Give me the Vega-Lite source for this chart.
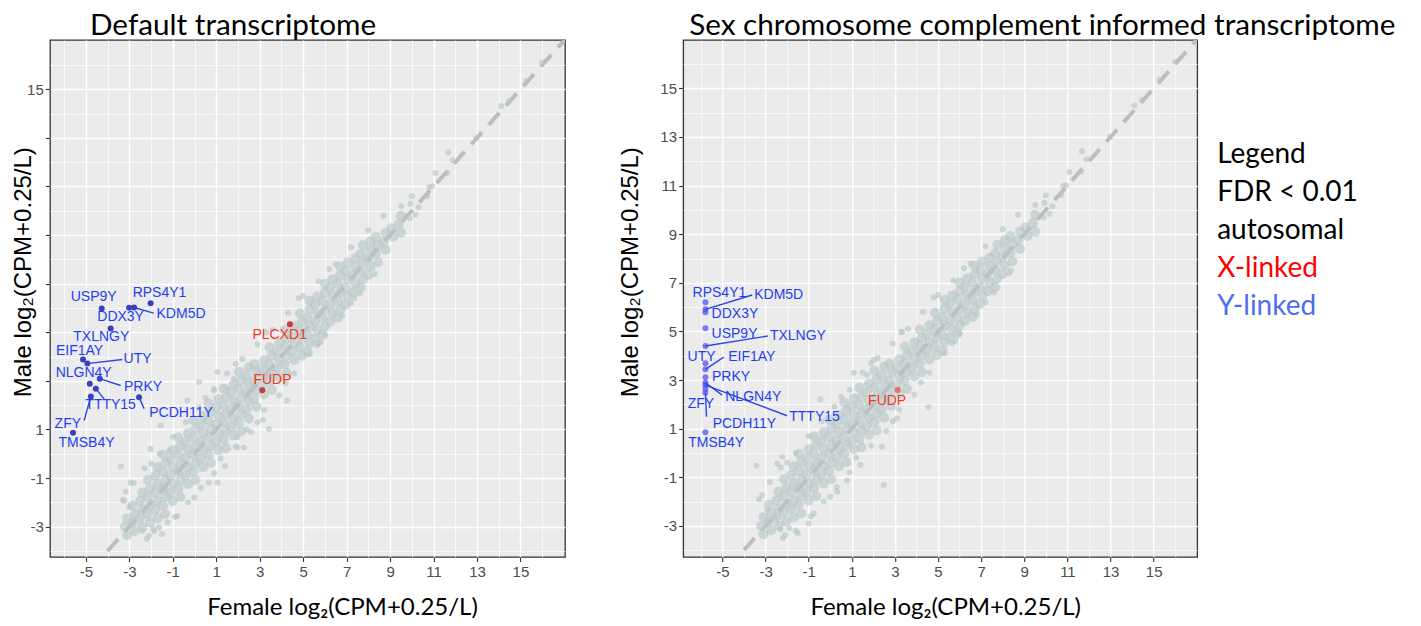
{
  "$schema": "https://vega.github.io/schema/vega-lite/v6.json",
  "background": "white",
  "padding": {"left": 10, "top": 10, "right": 5, "bottom": 5},
  "config": {
    "view": {"fill": "#EBEBEB", "stroke": "#333333", "strokeWidth": 1.3},
    "axis": {"grid": true, "gridColor": "#FFFFFF", "gridOpacity": 1, "domain": false, "tickColor": "#333333", "tickSize": 4.5, "tickWidth": 1.1, "labelFont": "Liberation Sans", "labelFontSize": 15, "labelColor": "#4D4D4D", "labelOverlap": false, "labelFlush": false, "titleFontWeight": "normal", "titleColor": "#000000", "titleAlign": "center", "titleBaseline": "alphabetic"},
    "axisX": {"labelPadding": 3, "titleFont": "Lato", "titleFontSize": 24},
    "axisY": {"labelPadding": 2.2, "titleFont": "Liberation Sans", "titleFontSize": 24, "titleAngle": 270},
    "title": {"font": "Lato", "fontSize": 29.7, "fontWeight": "normal", "color": "#000000", "anchor": "start", "frame": "group", "baseline": "alphabetic", "offset": -2}
  },
  "datasets": {
    "diag": [{"f": -8, "m": -8}, {"f": 20, "m": 20}],
    "genes": [
      {"panel": "L", "gene": "USP9Y", "chrom": "Y", "f": -4.27, "m": 5.98, "lf": -4.64, "lm": 6.46},
      {"panel": "L", "gene": "DDX3Y", "chrom": "Y", "f": -3.01, "m": 6.01, "lf": -3.40, "lm": 5.64},
      {"panel": "L", "gene": "KDM5D", "chrom": "Y", "f": -2.78, "m": 6.02, "lf": -0.62, "lm": 5.74, "ef": -1.88, "em": 5.79},
      {"panel": "L", "gene": "RPS4Y1", "chrom": "Y", "f": -2.02, "m": 6.19, "lf": -1.61, "lm": 6.60},
      {"panel": "L", "gene": "TXLNGY", "chrom": "Y", "f": -3.86, "m": 5.16, "lf": -4.29, "lm": 4.79},
      {"panel": "L", "gene": "EIF1AY", "chrom": "Y", "f": -5.13, "m": 3.88, "lf": -5.29, "lm": 4.22},
      {"panel": "L", "gene": "UTY", "chrom": "Y", "f": -4.93, "m": 3.71, "lf": -2.62, "lm": 3.88, "ef": -3.32, "em": 3.88},
      {"panel": "L", "gene": "NLGN4Y", "chrom": "Y", "f": -4.82, "m": 2.88, "lf": -5.10, "lm": 3.32},
      {"panel": "L", "gene": "PRKY", "chrom": "Y", "f": -4.36, "m": 3.09, "lf": -2.37, "lm": 2.74, "ef": -3.40, "em": 2.81},
      {"panel": "L", "gene": "TTTY15", "chrom": "Y", "f": -4.54, "m": 2.68, "lf": -3.86, "lm": 1.99, "ef": -4.16, "em": 2.26},
      {"panel": "L", "gene": "ZFY", "chrom": "Y", "f": -4.77, "m": 2.36, "lf": -5.83, "lm": 1.23, "ef": -5.08, "em": 1.37},
      {"panel": "L", "gene": "PCDH11Y", "chrom": "Y", "f": -2.55, "m": 2.33, "lf": -0.62, "lm": 1.67, "ef": -2.32, "em": 1.85},
      {"panel": "L", "gene": "TMSB4Y", "chrom": "Y", "f": -5.59, "m": 0.86, "lf": -4.97, "lm": 0.43},
      {"panel": "L", "gene": "PLCXD1", "chrom": "X", "f": 4.39, "m": 5.33, "lf": 3.92, "lm": 4.88},
      {"panel": "L", "gene": "FUDP", "chrom": "X", "f": 3.12, "m": 2.61, "lf": 3.59, "lm": 3.02},
      {"panel": "R", "gene": "RPS4Y1", "chrom": "Y", "f": -5.79, "m": 6.20, "lf": -5.14, "lm": 6.57},
      {"panel": "R", "gene": "KDM5D", "chrom": "Y", "f": -5.79, "m": 5.91, "lf": -2.39, "lm": 6.50, "ef": -3.62, "em": 6.50},
      {"panel": "R", "gene": "DDX3Y", "chrom": "Y", "f": -5.79, "m": 5.79, "lf": -4.42, "lm": 5.71},
      {"panel": "R", "gene": "USP9Y", "chrom": "Y", "f": -5.79, "m": 5.13, "lf": -4.44, "lm": 4.89},
      {"panel": "R", "gene": "TXLNGY", "chrom": "Y", "f": -5.79, "m": 4.40, "lf": -1.50, "lm": 4.81, "ef": -2.90, "em": 4.81},
      {"panel": "R", "gene": "UTY", "chrom": "Y", "f": -5.79, "m": 3.69, "lf": -5.97, "lm": 3.94},
      {"panel": "R", "gene": "EIF1AY", "chrom": "Y", "f": -5.79, "m": 3.44, "lf": -3.64, "lm": 3.96, "ef": -4.94, "em": 3.94},
      {"panel": "R", "gene": "PRKY", "chrom": "Y", "f": -5.79, "m": 3.11, "lf": -4.60, "lm": 3.11},
      {"panel": "R", "gene": "NLGN4Y", "chrom": "Y", "f": -5.79, "m": 2.89, "lf": -3.57, "lm": 2.31, "ef": -5.01, "em": 2.38},
      {"panel": "R", "gene": "TTTY15", "chrom": "Y", "f": -5.79, "m": 2.79, "lf": -0.73, "lm": 1.49, "ef": -2.00, "em": 1.53},
      {"panel": "R", "gene": "ZFY", "chrom": "Y", "f": -5.79, "m": 2.63, "lf": -6.00, "lm": 2.01},
      {"panel": "R", "gene": "PCDH11Y", "chrom": "Y", "f": -5.79, "m": 2.48, "lf": -3.98, "lm": 1.19, "ef": -5.74, "em": 1.49},
      {"panel": "R", "gene": "TMSB4Y", "chrom": "Y", "f": -5.79, "m": 0.85, "lf": -5.29, "lm": 0.39},
      {"panel": "R", "gene": "FUDP", "chrom": "X", "f": 3.13, "m": 2.59, "lf": 2.64, "lm": 2.14}
    ],
    "cloud": [
      {"f": -3.1, "m": -3.35}, {"f": -3.2, "m": -3.0}, {"f": -3.1, "m": -2.65},
      {"f": -2.75, "m": -3.18}, {"f": -2.85, "m": -2.83}, {"f": -2.75, "m": -2.48}, {"f": -2.85, "m": -2.13},
      {"f": -2.4, "m": -3.0}, {"f": -2.5, "m": -2.65}, {"f": -2.4, "m": -2.3}, {"f": -2.5, "m": -1.95}, {"f": -2.4, "m": -1.6},
      {"f": -2.05, "m": -2.83}, {"f": -2.15, "m": -2.48}, {"f": -2.05, "m": -2.13}, {"f": -2.15, "m": -1.78}, {"f": -2.05, "m": -1.43}, {"f": -2.15, "m": -1.08},
      {"f": -1.7, "m": -2.65}, {"f": -1.8, "m": -2.3}, {"f": -1.7, "m": -1.95}, {"f": -1.8, "m": -1.6}, {"f": -1.7, "m": -1.25}, {"f": -1.8, "m": -0.9}, {"f": -1.7, "m": -0.55},
      {"f": -1.35, "m": -2.48}, {"f": -1.45, "m": -2.13}, {"f": -1.35, "m": -1.78}, {"f": -1.45, "m": -1.43}, {"f": -1.35, "m": -1.08}, {"f": -1.45, "m": -0.73}, {"f": -1.35, "m": -0.38}, {"f": -1.45, "m": -0.03},
      {"f": -1.0, "m": -1.95}, {"f": -1.1, "m": -1.6}, {"f": -1.0, "m": -1.25}, {"f": -1.1, "m": -0.9}, {"f": -1.0, "m": -0.55}, {"f": -1.1, "m": -0.2}, {"f": -1.0, "m": 0.15},
      {"f": -0.65, "m": -1.78}, {"f": -0.75, "m": -1.43}, {"f": -0.65, "m": -1.08}, {"f": -0.75, "m": -0.73}, {"f": -0.65, "m": -0.38}, {"f": -0.75, "m": -0.03}, {"f": -0.65, "m": 0.33}, {"f": -0.75, "m": 0.68},
      {"f": -0.3, "m": -1.25}, {"f": -0.4, "m": -0.9}, {"f": -0.3, "m": -0.55}, {"f": -0.4, "m": -0.2}, {"f": -0.3, "m": 0.15}, {"f": -0.4, "m": 0.5}, {"f": -0.3, "m": 0.85},
      {"f": 0.05, "m": -1.08}, {"f": -0.05, "m": -0.73}, {"f": 0.05, "m": -0.38}, {"f": -0.05, "m": -0.03}, {"f": 0.05, "m": 0.33}, {"f": -0.05, "m": 0.68}, {"f": 0.05, "m": 1.03}, {"f": -0.05, "m": 1.38},
      {"f": 0.4, "m": -0.55}, {"f": 0.3, "m": -0.2}, {"f": 0.4, "m": 0.15}, {"f": 0.3, "m": 0.5}, {"f": 0.4, "m": 0.85}, {"f": 0.3, "m": 1.2}, {"f": 0.4, "m": 1.55},
      {"f": 0.75, "m": -0.38}, {"f": 0.65, "m": -0.03}, {"f": 0.75, "m": 0.33}, {"f": 0.65, "m": 0.68}, {"f": 0.75, "m": 1.03}, {"f": 0.65, "m": 1.38}, {"f": 0.75, "m": 1.73}, {"f": 0.65, "m": 2.08},
      {"f": 1.1, "m": 0.15}, {"f": 1.0, "m": 0.5}, {"f": 1.1, "m": 0.85}, {"f": 1.0, "m": 1.2}, {"f": 1.1, "m": 1.55}, {"f": 1.0, "m": 1.9}, {"f": 1.1, "m": 2.25},
      {"f": 1.45, "m": 0.23}, {"f": 1.35, "m": 0.58}, {"f": 1.45, "m": 0.93}, {"f": 1.35, "m": 1.28}, {"f": 1.45, "m": 1.63}, {"f": 1.35, "m": 1.98}, {"f": 1.45, "m": 2.33}, {"f": 1.35, "m": 2.68},
      {"f": 1.8, "m": 0.75}, {"f": 1.7, "m": 1.1}, {"f": 1.8, "m": 1.45}, {"f": 1.7, "m": 1.8}, {"f": 1.8, "m": 2.15}, {"f": 1.7, "m": 2.5}, {"f": 1.8, "m": 2.85},
      {"f": 2.15, "m": 0.93}, {"f": 2.05, "m": 1.28}, {"f": 2.15, "m": 1.63}, {"f": 2.05, "m": 1.98}, {"f": 2.15, "m": 2.33}, {"f": 2.05, "m": 2.68}, {"f": 2.15, "m": 3.03}, {"f": 2.05, "m": 3.38},
      {"f": 2.5, "m": 1.45}, {"f": 2.4, "m": 1.8}, {"f": 2.5, "m": 2.15}, {"f": 2.4, "m": 2.5}, {"f": 2.5, "m": 2.85}, {"f": 2.4, "m": 3.2}, {"f": 2.5, "m": 3.55},
      {"f": 2.85, "m": 1.93}, {"f": 2.75, "m": 2.28}, {"f": 2.85, "m": 2.63}, {"f": 2.75, "m": 2.98}, {"f": 2.85, "m": 3.33}, {"f": 2.75, "m": 3.68},
      {"f": 3.2, "m": 2.45}, {"f": 3.1, "m": 2.8}, {"f": 3.2, "m": 3.15}, {"f": 3.1, "m": 3.5}, {"f": 3.2, "m": 3.85},
      {"f": 3.55, "m": 2.63}, {"f": 3.45, "m": 2.98}, {"f": 3.55, "m": 3.33}, {"f": 3.45, "m": 3.68}, {"f": 3.55, "m": 4.03}, {"f": 3.45, "m": 4.38},
      {"f": 3.9, "m": 3.15}, {"f": 3.8, "m": 3.5}, {"f": 3.9, "m": 3.85}, {"f": 3.8, "m": 4.2}, {"f": 3.9, "m": 4.55},
      {"f": 4.25, "m": 3.33}, {"f": 4.15, "m": 3.68}, {"f": 4.25, "m": 4.03}, {"f": 4.15, "m": 4.38}, {"f": 4.25, "m": 4.73}, {"f": 4.15, "m": 5.08},
      {"f": 4.6, "m": 3.85}, {"f": 4.5, "m": 4.2}, {"f": 4.6, "m": 4.55}, {"f": 4.5, "m": 4.9}, {"f": 4.6, "m": 5.25},
      {"f": 4.95, "m": 4.03}, {"f": 4.85, "m": 4.38}, {"f": 4.95, "m": 4.73}, {"f": 4.85, "m": 5.08}, {"f": 4.95, "m": 5.43}, {"f": 4.85, "m": 5.78},
      {"f": 5.2, "m": 4.2}, {"f": 5.3, "m": 4.55}, {"f": 5.2, "m": 4.9}, {"f": 5.3, "m": 5.25}, {"f": 5.2, "m": 5.6}, {"f": 5.3, "m": 5.95}, {"f": 5.3, "m": 6.3},
      {"f": 5.55, "m": 4.73}, {"f": 5.65, "m": 5.08}, {"f": 5.55, "m": 5.43}, {"f": 5.65, "m": 5.78}, {"f": 5.55, "m": 6.13}, {"f": 5.65, "m": 6.48},
      {"f": 5.9, "m": 4.9}, {"f": 6.0, "m": 5.25}, {"f": 5.9, "m": 5.6}, {"f": 6.0, "m": 5.95}, {"f": 5.9, "m": 6.3}, {"f": 6.0, "m": 6.65}, {"f": 6.0, "m": 7.0},
      {"f": 6.25, "m": 5.43}, {"f": 6.35, "m": 5.78}, {"f": 6.25, "m": 6.13}, {"f": 6.35, "m": 6.48}, {"f": 6.25, "m": 6.83}, {"f": 6.35, "m": 7.18},
      {"f": 6.6, "m": 5.6}, {"f": 6.7, "m": 5.95}, {"f": 6.6, "m": 6.3}, {"f": 6.7, "m": 6.65}, {"f": 6.6, "m": 7.0}, {"f": 6.7, "m": 7.35}, {"f": 6.7, "m": 7.7},
      {"f": 6.95, "m": 6.13}, {"f": 7.05, "m": 6.48}, {"f": 6.95, "m": 6.83}, {"f": 7.05, "m": 7.18}, {"f": 6.95, "m": 7.53}, {"f": 7.05, "m": 7.88},
      {"f": 7.3, "m": 6.65}, {"f": 7.4, "m": 7.0}, {"f": 7.3, "m": 7.35}, {"f": 7.4, "m": 7.7}, {"f": 7.4, "m": 8.05},
      {"f": 7.65, "m": 6.83}, {"f": 7.75, "m": 7.18}, {"f": 7.65, "m": 7.53}, {"f": 7.75, "m": 7.88}, {"f": 7.65, "m": 8.23}, {"f": 7.75, "m": 8.58},
      {"f": 8.0, "m": 7.35}, {"f": 8.1, "m": 7.7}, {"f": 8.0, "m": 8.05}, {"f": 8.1, "m": 8.4}, {"f": 8.1, "m": 8.75},
      {"f": 8.45, "m": 7.88}, {"f": 8.35, "m": 8.23}, {"f": 8.45, "m": 8.58}, {"f": 8.35, "m": 8.93},
      {"f": 8.8, "m": 8.4}, {"f": 8.7, "m": 8.75}, {"f": 8.8, "m": 9.1},
      {"f": 9.15, "m": 8.93}, {"f": 9.05, "m": 9.28},
      {"f": 9.5, "m": 9.1}, {"f": 9.4, "m": 9.45}, {"f": 9.5, "m": 9.8},
      {"p": "B", "f": 9.51, "m": 10.2}, {"p": "B", "f": 9.94, "m": 10.29}, {"p": "B", "f": 10.17, "m": 9.84}, {"p": "B", "f": 10.31, "m": 10.15}, {"p": "B", "f": 10.71, "m": 10.6}, {"p": "B", "f": 10.81, "m": 10.98}, {"p": "B", "f": 10.94, "m": 11.01}, {"p": "B", "f": 11.09, "m": 11.56}, {"p": "B", "f": 11.63, "m": 11.56}, {"p": "B", "f": 11.67, "m": 12.41}, {"p": "B", "f": 11.88, "m": 12.08}, {"p": "B", "f": 12.97, "m": 13.0}, {"p": "B", "f": 14.11, "m": 14.31}, {"p": "B", "f": 14.46, "m": 14.52}, {"p": "B", "f": 15.27, "m": 15.35}, {"p": "B", "f": 16.0, "m": 16.1}, {"p": "B", "f": 9.9, "m": 9.7}, {"p": "B", "f": 10.0, "m": 10.6},
      {"p": "B", "f": -2.2, "m": -3.5}, {"p": "B", "f": -1.5, "m": -3.3}, {"p": "B", "f": -0.9, "m": -2.6}, {"p": "B", "f": -0.3, "m": -2.0}, {"p": "B", "f": 0.3, "m": -1.4}, {"p": "B", "f": 0.9, "m": -0.8}, {"p": "B", "f": 1.4, "m": -0.5}, {"p": "B", "f": 1.9, "m": 0.3}, {"p": "B", "f": 2.6, "m": 0.9}, {"p": "B", "f": 3.2, "m": 1.8}, {"p": "B", "f": 3.9, "m": 2.4}, {"p": "B", "f": 4.6, "m": 3.3}, {"p": "B", "f": 5.3, "m": 4.1}, {"p": "B", "f": 6.0, "m": 4.9}, {"p": "B", "f": 6.8, "m": 5.7}, {"p": "B", "f": 7.6, "m": 6.6}, {"p": "B", "f": 8.3, "m": 7.4}, {"p": "B", "f": -1.9, "m": -3.1}, {"p": "B", "f": 0.0, "m": -1.8}, {"p": "B", "f": 1.2, "m": -0.2}, {"p": "B", "f": 2.9, "m": 1.3}, {"p": "B", "f": 4.2, "m": 2.9}, {"p": "B", "f": 5.8, "m": 4.6}, {"p": "B", "f": 7.2, "m": 6.2},
      {"p": "B", "f": -3.3, "m": -1.9}, {"p": "B", "f": -2.8, "m": -1.2}, {"p": "B", "f": -2.3, "m": -0.6}, {"p": "B", "f": -1.6, "m": 0.0}, {"p": "B", "f": -1.0, "m": 0.7}, {"p": "B", "f": -0.4, "m": 1.3}, {"p": "B", "f": 0.2, "m": 1.9}, {"p": "B", "f": 0.9, "m": 2.6}, {"p": "B", "f": 1.5, "m": 3.3}, {"p": "B", "f": 2.2, "m": 3.9}, {"p": "B", "f": 2.9, "m": 4.5}, {"p": "B", "f": 3.6, "m": 5.1}, {"p": "B", "f": 4.3, "m": 5.8}, {"p": "B", "f": 5.0, "m": 6.5}, {"p": "B", "f": 5.7, "m": 7.1}, {"p": "B", "f": 6.5, "m": 7.8}, {"p": "B", "f": 7.2, "m": 8.5}, {"p": "B", "f": 8.0, "m": 9.2}, {"p": "B", "f": 8.7, "m": 9.8}, {"p": "B", "f": -2.0, "m": -0.4}, {"p": "B", "f": 0.5, "m": 2.3}, {"p": "B", "f": 1.9, "m": 3.7}, {"p": "B", "f": 3.3, "m": 5.0}, {"p": "B", "f": 4.8, "m": 6.4}, {"p": "B", "f": 6.2, "m": 7.6},
      {"p": "L", "f": -3.39, "m": -0.52}, {"p": "L", "f": -3.17, "m": -1.55}, {"p": "L", "f": -3.24, "m": -1.94}, {"p": "L", "f": -3.01, "m": -2.21}, {"p": "L", "f": -2.94, "m": -1.18}, {"p": "L", "f": -2.4, "m": -3.18}, {"p": "L", "f": -2.09, "m": -3.38}, {"p": "L", "f": -1.86, "m": -3.18}, {"p": "L", "f": -1.63, "m": -3.04}, {"p": "L", "f": -1.25, "m": -2.83}, {"p": "L", "f": -0.79, "m": -2.56}, {"p": "L", "f": -2.02, "m": 0.2}, {"p": "L", "f": -1.56, "m": 1.16}, {"p": "L", "f": -1.17, "m": 0.13}, {"p": "L", "f": -0.33, "m": 2.19}, {"p": "L", "f": 0.21, "m": 2.95}, {"p": "L", "f": 0.89, "m": 2.68}, {"p": "L", "f": 1.05, "m": 3.36}, {"p": "L", "f": 1.51, "m": 2.68}, {"p": "L", "f": 1.81, "m": 3.09}, {"p": "L", "f": 0.66, "m": -1.18}, {"p": "L", "f": 1.05, "m": -1.18}, {"p": "L", "f": 1.97, "m": 0.26}, {"p": "L", "f": 2.27, "m": 0.26}, {"p": "L", "f": 1.97, "m": 0.68}, {"p": "L", "f": 3.42, "m": 1.02}, {"p": "L", "f": 4.27, "m": 2.19}, {"p": "L", "f": 3.15, "m": 1.4}, {"p": "L", "f": 2.4, "m": 1.0}, {"p": "L", "f": 5.65, "m": 4.47}, {"p": "L", "f": 5.7, "m": 4.54}, {"p": "L", "f": 7.36, "m": 6.4},
      {"p": "R", "f": 3.33, "m": 4.96}, {"p": "R", "f": 2.4, "m": 0.26}, {"p": "R", "f": 2.48, "m": -1.32}, {"p": "R", "f": 4.56, "m": 1.88}, {"p": "R", "f": 3.1, "m": 1.42}, {"p": "R", "f": -0.46, "m": 2.21}, {"p": "R", "f": 1.09, "m": 3.3}, {"p": "R", "f": -3.42, "m": -0.53}, {"p": "R", "f": -2.08, "m": -3.38}, {"p": "R", "f": -2.31, "m": -3.15}, {"p": "R", "f": -3.16, "m": -1.73}, {"p": "R", "f": -2.93, "m": -2.35}, {"p": "R", "f": -2.54, "m": -2.63}, {"p": "R", "f": -0.77, "m": -2.49}, {"p": "R", "f": 0.32, "m": -1.6}, {"p": "R", "f": 0.78, "m": -1.12}, {"p": "R", "f": 2.01, "m": 3.82}, {"p": "R", "f": 1.71, "m": 3.21}, {"p": "R", "f": -2.23, "m": -0.16}, {"p": "R", "f": -2.46, "m": -0.43}, {"p": "R", "f": 8.38, "m": 7.5}, {"p": "R", "f": 5.65, "m": 4.51}, {"p": "R", "f": -1.6, "m": -3.2}, {"p": "R", "f": -1.0, "m": -2.9}
    ]
  },
  "bounds": "flush",
  "spacing": 118.2,
  "hconcat": [
    {
      "width": 515,
      "height": 517,
      "title": {"text": "Default transcriptome", "dx": 40},
      "encoding": {
        "x": {"field": "f", "type": "quantitative", "scale": {"domain": [-6.65, 17.05], "nice": false, "zero": false},
          "axis": {"title": "Female log₂(CPM+0.25/L)", "values": [-6,-5,-4,-3,-2,-1,0,1,2,3,4,5,6,7,8,9,10,11,12,13,14,15,16],
            "labelExpr": "abs(datum.value % 2) == 1 ? '' + datum.value : ''",
            "gridWidth": {"condition": {"test": "abs(datum.value % 2) == 1", "value": 1.4}, "value": 0.7},
            "tickOpacity": {"condition": {"test": "abs(datum.value % 2) == 1", "value": 1}, "value": 0},
            "titleX": 292, "titleY": 57}},
        "y": {"field": "m", "type": "quantitative", "scale": {"domain": [-4.25, 17.03], "nice": false, "zero": false},
          "axis": {"title": "Male log₂(CPM+0.25/L)", "values": [-4,-3,-2,-1,0,1,2,3,4,5,6,7,8,9,10,11,12,13,14,15,16],
            "labelExpr": "(datum.value == 15 || datum.value <= 1) && abs(datum.value % 2) == 1 ? '' + datum.value : ''",
            "gridWidth": {"condition": {"test": "abs(datum.value % 2) == 1", "value": 1.4}, "value": 0.7},
            "tickOpacity": {"condition": {"test": "abs(datum.value % 2) == 1", "value": 1}, "value": 0},
            "titleX": -19.6, "titleY": 231.7}}
      },
      "layer": [
        {"data": {"name": "diag"}, "mark": {"type": "line", "clip": true, "color": "#BDBDBD", "strokeWidth": 4, "strokeDash": [16, 10]}, "encoding": {}},
        {"data": {"name": "cloud"}, "transform": [{"filter": "datum.p !== 'R'"}], "mark": {"type": "circle", "color": "#B6C7C7", "opacity": 0.62},
          "encoding": {"size": {"condition": {"test": "isValid(datum.p)", "value": 36}, "value": 100}}},
        {"data": {"name": "genes"}, "transform": [{"filter": "datum.panel === 'L'"}], "mark": {"type": "circle", "size": 36, "opacity": 1},
          "encoding": {"color": {"condition": {"test": "datum.chrom === 'X'", "value": "#C93A3A"}, "value": "#3B3FB8"}}},
        {"data": {"name": "genes"}, "transform": [{"filter": "datum.panel === 'L' && isValid(datum.ef)"}], "mark": {"type": "rule", "strokeWidth": 1.4, "color": "#2A45E6"},
          "encoding": {"x2": {"field": "ef"}, "y2": {"field": "em"}}},
        {"data": {"name": "genes"}, "transform": [{"filter": "datum.panel === 'L'"}], "mark": {"type": "text", "font": "Liberation Sans", "fontSize": 14, "align": "center", "baseline": "middle"},
          "encoding": {
            "x": {"field": "lf", "type": "quantitative", "title": "Female log₂(CPM+0.25/L)", "scale": {"domain": [-6.65, 17.05], "nice": false, "zero": false}},
            "y": {"field": "lm", "type": "quantitative", "title": "Male log₂(CPM+0.25/L)", "scale": {"domain": [-4.25, 17.03], "nice": false, "zero": false}},
            "text": {"field": "gene"},
            "color": {"condition": {"test": "datum.chrom === 'X'", "value": "#F0391E"}, "value": "#1F40F0"}}}
      ]
    },
    {
      "bounds": "flush",
      "spacing": 20,
      "hconcat": [
        {
          "width": 514,
          "height": 517,
          "title": {"text": "Sex chromosome complement informed transcriptome", "dx": 6},
          "encoding": {
            "x": {"field": "f", "type": "quantitative", "scale": {"domain": [-6.82, 17.02], "nice": false, "zero": false},
              "axis": {"title": "Female log₂(CPM+0.25/L)", "values": [-6,-5,-4,-3,-2,-1,0,1,2,3,4,5,6,7,8,9,10,11,12,13,14,15,16],
                "labelExpr": "abs(datum.value % 2) == 1 ? '' + datum.value : ''",
                "gridWidth": {"condition": {"test": "abs(datum.value % 2) == 1", "value": 1.4}, "value": 0.7},
                "tickOpacity": {"condition": {"test": "abs(datum.value % 2) == 1", "value": 1}, "value": 0},
                "titleX": 262, "titleY": 57}},
            "y": {"field": "m", "type": "quantitative", "scale": {"domain": [-4.28, 16.99], "nice": false, "zero": false},
              "axis": {"title": "Male log₂(CPM+0.25/L)", "values": [-4,-3,-2,-1,0,1,2,3,4,5,6,7,8,9,10,11,12,13,14,15,16],
                "labelExpr": "abs(datum.value % 2) == 1 ? '' + datum.value : ''",
                "gridWidth": {"condition": {"test": "abs(datum.value % 2) == 1", "value": 1.4}, "value": 0.7},
                "tickOpacity": {"condition": {"test": "abs(datum.value % 2) == 1", "value": 1}, "value": 0},
                "titleX": -46, "titleY": 231.7}}
          },
          "layer": [
            {"data": {"name": "diag"}, "mark": {"type": "line", "clip": true, "color": "#BDBDBD", "strokeWidth": 4, "strokeDash": [16, 10]}, "encoding": {}},
            {"data": {"name": "cloud"}, "transform": [{"filter": "datum.p !== 'L'"}], "mark": {"type": "circle", "color": "#B6C7C7", "opacity": 0.62},
              "encoding": {"size": {"condition": {"test": "isValid(datum.p)", "value": 36}, "value": 100}}},
            {"data": {"name": "genes"}, "transform": [{"filter": "datum.panel === 'R'"}], "mark": {"type": "circle", "size": 36, "opacity": 0.7},
              "encoding": {"color": {"condition": {"test": "datum.chrom === 'X'", "value": "#F04848"}, "value": "#4B4BEE"}}},
            {"data": {"name": "genes"}, "transform": [{"filter": "datum.panel === 'R' && isValid(datum.ef)"}], "mark": {"type": "rule", "strokeWidth": 1.4, "color": "#2A45E6"},
              "encoding": {"x2": {"field": "ef"}, "y2": {"field": "em"}}},
            {"data": {"name": "genes"}, "transform": [{"filter": "datum.panel === 'R'"}], "mark": {"type": "text", "font": "Liberation Sans", "fontSize": 14, "align": "center", "baseline": "middle"},
              "encoding": {
                "x": {"field": "lf", "type": "quantitative", "title": "Female log₂(CPM+0.25/L)", "scale": {"domain": [-6.82, 17.02], "nice": false, "zero": false}},
                "y": {"field": "lm", "type": "quantitative", "title": "Male log₂(CPM+0.25/L)", "scale": {"domain": [-4.28, 16.99], "nice": false, "zero": false}},
                "text": {"field": "gene"},
                "color": {"condition": {"test": "datum.chrom === 'X'", "value": "#F0391E"}, "value": "#1F40F0"}}}
          ]
        },
        {
          "width": 200,
          "height": 517,
          "view": {"fill": null, "stroke": null},
          "data": {"values": [{"item": "Legend"}, {"item": "FDR < 0.01"}, {"item": "autosomal"}, {"item": "X-linked"}, {"item": "Y-linked"}]},
          "mark": {"type": "text", "align": "left", "baseline": "alphabetic", "font": "Lato", "fontSize": 28},
          "encoding": {
            "x": {"value": 0},
            "y": {"field": "item", "type": "nominal", "sort": null, "axis": null, "scale": {"type": "point", "range": [123, 274.7], "padding": 0}},
            "text": {"field": "item"},
            "color": {"condition": [{"test": "datum.item === 'X-linked'", "value": "#FF0000"}, {"test": "datum.item === 'Y-linked'", "value": "#4F6DF0"}], "value": "#000000"}
          }
        }
      ]
    }
  ]
}
